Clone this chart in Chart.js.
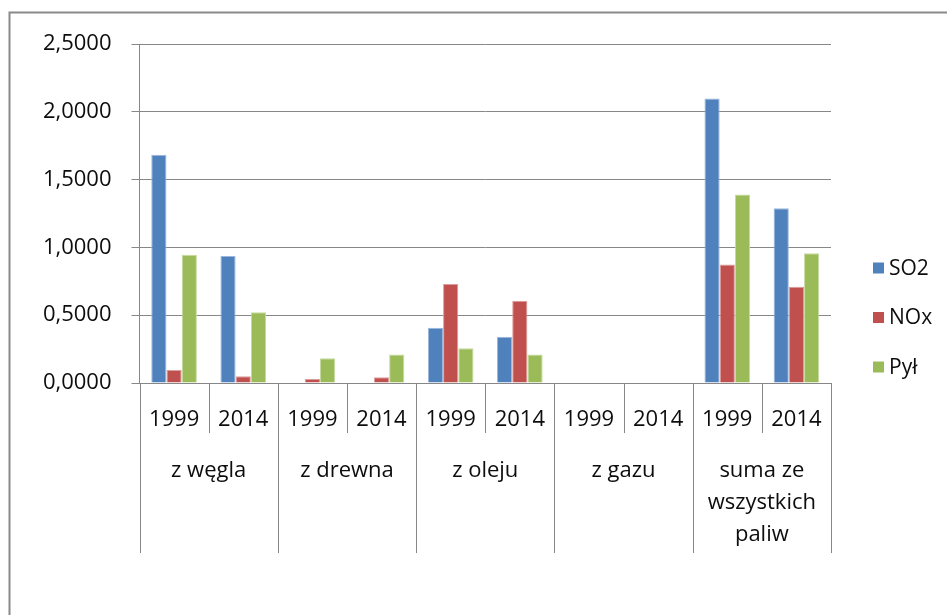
<!DOCTYPE html>
<html>
<head>
<meta charset="utf-8">
<script src="https://cdn.jsdelivr.net/npm/chart.js@4"></script>
<style>
  html, body { margin: 0; padding: 0; background: #ffffff; }
  #wrap { width: 947px; height: 615px; }
</style>
</head>
<body>
<div id="wrap"><canvas id="c" width="947" height="615"></canvas></div>
<script>
// ---- data ----
const groups = ['z węgla', 'z drewna', 'z oleju', 'z gazu', ['suma ze', 'wszystkich', 'paliw']];
const years = ['1999', '2014'];
const seriesNames = ['SO2', 'NOx', 'Pył'];
const so2 = [1.684, 0.937, 0, 0, 0.408, 0.341, 0, 0, 2.099, 1.288];
const nox = [0.096, 0.049, 0.030, 0.042, 0.730, 0.607, 0, 0, 0.873, 0.710];
const pyl = [0.946, 0.521, 0.182, 0.211, 0.256, 0.211, 0, 0, 1.391, 0.956];
const yTicks = [0, 0.5, 1.0, 1.5, 2.0, 2.5];

// ---- build labels ----
const labels = [];
groups.forEach(g => years.forEach(y => labels.push(y)));

const FONT = '"Open Sans", "Liberation Sans", sans-serif';
const TEXT = '#0d0d0d';
const GRID = '#878787';

const colors = ['#4F81BD', '#C0504D', '#9BBB59'];
const borders = ['#9db7dc', '#dc9d9b', '#c6da9f'];

const multiAxis = {
  id: 'multiAxis',
  beforeDraw(chart) {
    const ctx = chart.ctx;
    ctx.save();
    ctx.fillStyle = '#ffffff';
    ctx.fillRect(0, 0, chart.width, chart.height);
    ctx.strokeStyle = '#8a8a8a';
    ctx.lineWidth = 2;
    ctx.beginPath();
    ctx.moveTo(9.5, 615);
    ctx.lineTo(9.5, 12.5);
    ctx.lineTo(947, 12.5);
    ctx.stroke();
    ctx.restore();
  },
  afterDraw(chart) {
    const ctx = chart.ctx;
    const xs = chart.scales.x;
    const bottom = chart.chartArea.bottom;
    const step = xs.getPixelForValue(1) - xs.getPixelForValue(0);
    ctx.save();
    // separators
    ctx.strokeStyle = GRID;
    ctx.lineWidth = 1;
    for (let i = 0; i <= labels.length; i++) {
      const x = Math.round(xs.getPixelForValue(i) - step / 2) + 0.5;
      const end = (i % years.length === 0) ? 553 : 433;
      ctx.beginPath();
      ctx.moveTo(x, bottom);
      ctx.lineTo(x, end);
      ctx.stroke();
    }
    // year labels
    ctx.fillStyle = TEXT;
    ctx.font = '22px ' + FONT;
    ctx.textAlign = 'center';
    ctx.textBaseline = 'alphabetic';
    labels.forEach((l, i) => {
      ctx.fillText(l, xs.getPixelForValue(i), 426);
    });
    // group labels
    groups.forEach((g, gi) => {
      const i0 = gi * years.length;
      const cx = (xs.getPixelForValue(i0) + xs.getPixelForValue(i0 + years.length - 1)) / 2;
      const lines = Array.isArray(g) ? g : [g];
      lines.forEach((ln, k) => ctx.fillText(ln, cx, 477 + k * 32));
    });
    // legend
    ctx.font = '21px ' + FONT;
    ctx.textAlign = 'left';
    ctx.textBaseline = 'middle';
    chart.data.datasets.forEach((ds, k) => {
      const cy = 268 + k * 49.5;
      ctx.fillStyle = ds.backgroundColor;
      ctx.fillRect(873, cy - 5.5, 11, 11);
      ctx.fillStyle = TEXT;
      ctx.fillText(ds.label, 889, cy + 1);
    });
    ctx.restore();
  }
};

new Chart(document.getElementById('c'), {
  type: 'bar',
  data: {
    labels: labels,
    datasets: [
      { label: seriesNames[0], data: so2, backgroundColor: colors[0], borderColor: borders[0], borderWidth: 1 },
      { label: seriesNames[1], data: nox, backgroundColor: colors[1], borderColor: borders[1], borderWidth: 1 },
      { label: seriesNames[2], data: pyl, backgroundColor: colors[2], borderColor: borders[2], borderWidth: 1 }
    ]
  },
  options: {
    responsive: false,
    animation: false,
    devicePixelRatio: 1,
    layout: { padding: { left: 0, right: 116, top: 44, bottom: 0 } },
    datasets: { bar: { categoryPercentage: 0.66, barPercentage: 1.0 } },
    plugins: { legend: { display: false }, tooltip: { enabled: false } },
    scales: {
      x: {
        ticks: { display: false },
        grid: { display: false },
        border: { display: true, color: GRID, width: 1 },
        afterFit(s) { s.height = 615 - 383; }
      },
      y: {
        min: 0,
        max: 2.5,
        afterBuildTicks(s) { s.ticks = yTicks.map(v => ({ value: v })); },
        ticks: {
          padding: 20,
          color: TEXT,
          font: { family: FONT, size: 22 },
          callback: v => Number(v).toFixed(4).replace('.', ',')
        },
        grid: { color: GRID, lineWidth: 1, tickLength: 8, drawTicks: true },
        border: { display: true, color: GRID, width: 1 },
        afterFit(s) { s.width = 139.5; }
      }
    }
  },
  plugins: [multiAxis]
});
</script>
</body>
</html>
